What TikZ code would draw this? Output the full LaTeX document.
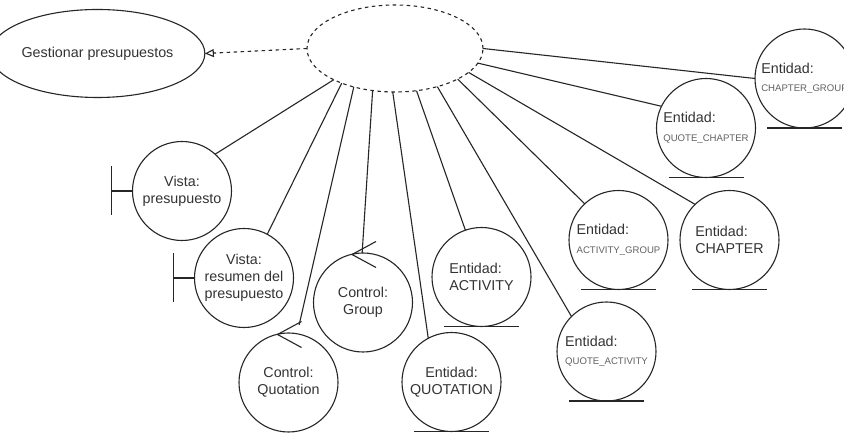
\documentclass[tikz,border=0pt]{standalone}
\usepackage{fontspec}
\setmainfont{Liberation Sans}
\usetikzlibrary{arrows.meta,shapes.geometric,calc}

\newcommand{\smalltag}[1]{{\fontsize{9.6}{11.5}\selectfont\color{black!62}#1}}

\begin{document}
\begin{tikzpicture}[x=1pt,y=-1pt,
  every node/.style={inner sep=0pt, outer sep=0pt},
  link/.style={line width=1.1pt, draw=black!85},
  obj/.style={circle, draw=black!85, line width=1.1pt, minimum size=99pt,
    font=\fontsize{14.3}{17}\selectfont, text=black!80},
  usecase/.style={ellipse, draw=black!85, line width=1.1pt,
    font=\fontsize{14.3}{17}\selectfont, text=black!80},
  dashline/.style={dash pattern=on 3.5pt off 3.5pt}
]
\fill[white] (0,0) rectangle (844,435);
\useasboundingbox (0,0) rectangle (844,435);
\clip (0,0) rectangle (844,435);

% use cases
\node[usecase, minimum width=171pt, minimum height=88pt] (gest) at (97.5,53.5) {Gestionar presupuestos};
\node[usecase, dashline, minimum width=176pt, minimum height=87pt] (uc) at (395,48.5) {};

% boundary objects
\node[obj, align=center] (vp) at (182,191) {Vista:\\presupuesto};
\node[obj, align=center] (vr) at (244,278) {Vista:\\resumen del\\presupuesto};

% control objects
\node[obj, align=center] (cq) at (288.5,382.5) {Control:\\Quotation};
\node[obj, align=center] (cg) at (363,302.5) {Control:\\Group};

% entity objects
\node[obj, align=center] (eq) at (451.5,382) {Entidad:\\QUOTATION};
\node[obj, align=left] (ea) at (481.5,277) {Entidad:\\ACTIVITY};
\node[obj, align=left] (eqa) at (606.5,351.5) {Entidad:\\[1.5pt]\smalltag{QUOTE\_ACTIVITY}};
\node[obj, align=left] (eag) at (618.5,240) {Entidad:\\[1.5pt]\smalltag{ACTIVITY\_GROUP}};
\node[obj, align=left] (ech) at (729.5,240) {Entidad:\\CHAPTER};
\node[obj, align=left] (eqc) at (706,128) {Entidad:\\[1.5pt]\smalltag{QUOTE\_CHAPTER}};
\node[obj, align=left] (ecg) at (804.5,78.5) {Entidad:\\[1.5pt]\smalltag{CHAPTER\_GROUP}};

% entity underlines
\foreach \n in {eq,ea,eqa,eag,ech,eqc,ecg}
  \draw[link] ($(\n.south)+(-37.5,0)$) -- ($(\n.south)+(37.5,0)$);

% boundary bars
\foreach \n in {vp,vr}{
  \draw[link] (\n.west) -- ++(-21,0) coordinate (\n bar);
  \draw[link] ($(\n bar)+(0,-24.5)$) -- ($(\n bar)+(0,24.5)$);
}

% control arrows
\foreach \n in {cq,cg}
  \draw[link] ($(\n.north)+(13,-11.5)$) -- ($(\n.north)+(-11,1.5)$) -- ($(\n.north)+(13,14.5)$);

% generalization
\draw[link, dashline, -{Triangle[open,length=9pt,width=8pt]}] (uc.west) -- (gest.east);

% associations
\draw[link] (uc.207) -- (vp.48);
\draw[link] (uc.213.6) -- (vr.62.4);
\draw[link, shorten >=9pt] (uc.223) -- (cq.80);
\draw[link] (uc.242.6) -- (cg.91);
\draw[link] (uc.267.4) -- (eq.118);
\draw[link] (uc.297.4) -- (ea.109.3);
\draw[link] (uc.318.2) -- (eqa.135);
\draw[link] (uc.334.2) -- (eag.133.8);
\draw[link] (uc.342.1) -- (ech.134.6);
\draw[link] (uc.350.1) -- (eqc.154.5);
\draw[link] (uc.0) -- (ecg.180);
\end{tikzpicture}
\end{document}
